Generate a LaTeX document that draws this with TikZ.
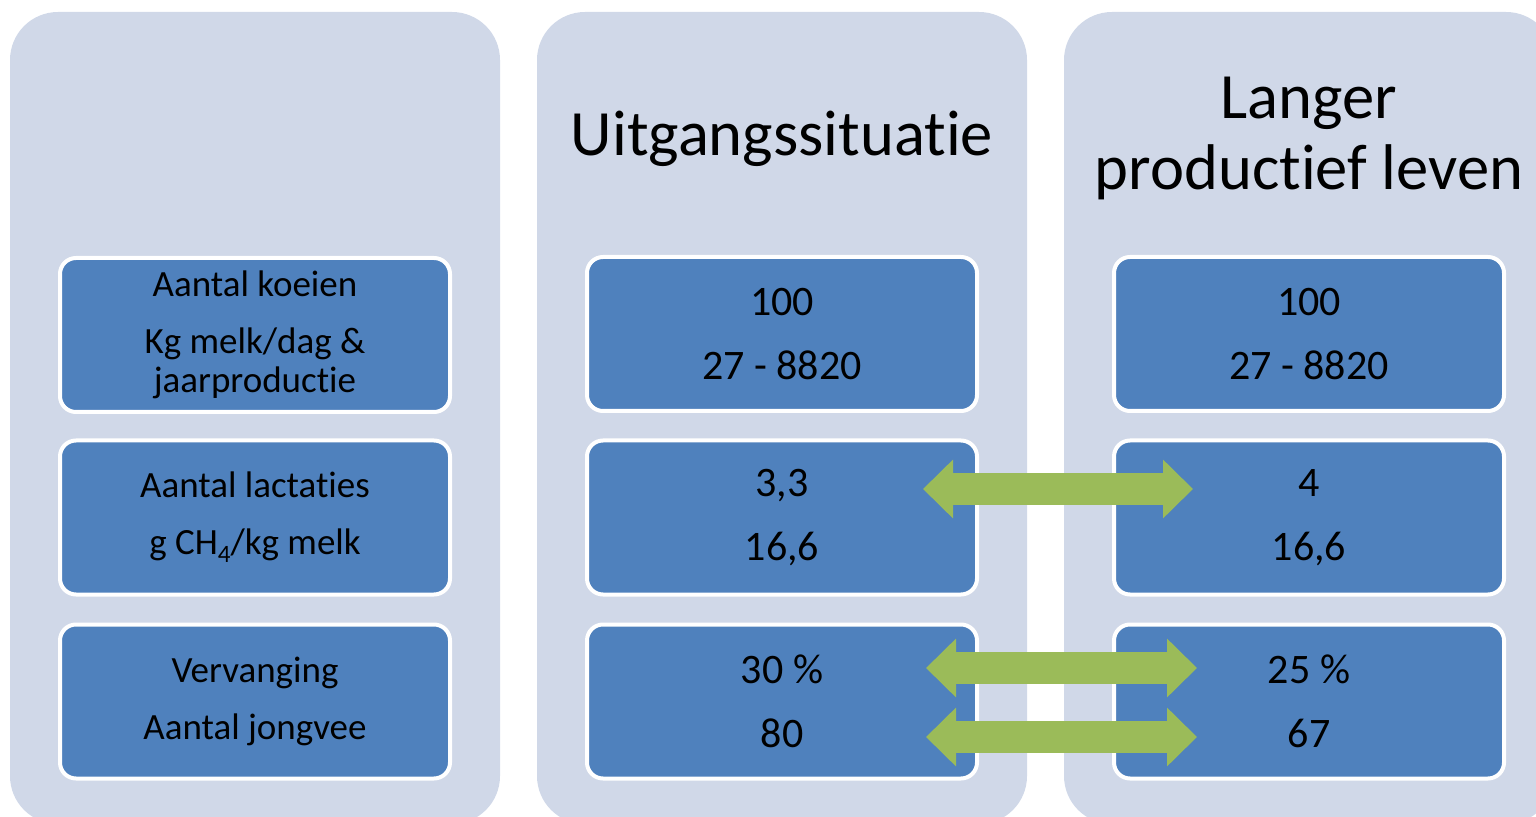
\documentclass[tikz,border=0pt]{standalone}
\usepackage{fontspec}
\setmainfont{Carlito}[RawFeature={-liga;-clig;-dlig;-calt;-rlig;-hlig}]
\usetikzlibrary{arrows.meta}
\definecolor{colbg}{HTML}{D0D8E8}
\definecolor{boxblue}{HTML}{4F81BD}
\definecolor{arrgreen}{HTML}{9BBB59}
\newcommand{\lowsub}[1]{\raisebox{-4pt}{\fontsize{12.5}{12.5}\selectfont #1}}
\newcommand{\nolig}{\kern0pt{}}
\begin{document}
\begin{tikzpicture}[x=0.5pt,y=-0.5pt,
  column/.style={fill=colbg, draw=none, rounded corners=24pt, minimum width=245pt, minimum height=406pt, inner sep=0pt, outer sep=0pt},
  title/.style={font=\fontsize{32.3}{35.5}\selectfont, align=center, inner sep=0pt},
  infobox/.style={fill=boxblue, draw=white, line width=2pt, rounded corners=8pt, minimum width=195pt, minimum height=77pt, inner sep=0pt, outer sep=0pt, align=center},
  lbl/.style={infobox, font=\fontsize{18.5}{19.5}\selectfont},
  val/.style={infobox, font=\fontsize{21}{22}\selectfont},
  bigarrow/.style={draw=arrgreen, line width=16pt, {Triangle[length=15pt,width=28.5pt]}-{Triangle[length=15pt,width=28.5pt]}}
]
\clip (0,0) rectangle (1536,817);
% columns
\node[column] (col1) at (255,418) {};
\node[column] (col2) at (782,418) {};
\node[column] (col3) at (1309,418) {};
% titles
\node[title, anchor=base] (t2) at (782,156) {Uitgangssituat\nolig ie};
\node[title] (t3) at (1309,138) {Langer\\product\nolig ief leven};
% left labels
\node[lbl] (c1r1) at (255,335) {Aantal koeien\\[9pt]Kg melk/dag \&\\jaarproduct\nolig ie};
\node[lbl] (c1r2) at (255,517.5) {Aantal lactat\nolig ies\\[9pt]g CH\lowsub{4}/kg melk};
\node[lbl] (c1r3) at (255,701.5) {Vervanging\\[9pt]Aantal jongvee};
% middle values
\node[val] (c2r1) at (782,334) {100\\[10pt]27 - 8820};
\node[val] (c2r2) at (782,517.5) {3,3\\[10pt]16,6};
\node[val] (c2r3) at (782,701.5) {30 \%\\[10pt]80};
% right values
\node[val] (c3r1) at (1309,334) {100\\[10pt]27 - 8820};
\node[val] (c3r2) at (1309,517.5) {4\\[10pt]16,6};
\node[val] (c3r3) at (1309,701.5) {25 \%\\[10pt]67};
% arrows
\draw[bigarrow] ([xshift=-27pt,yshift=14.25pt]c2r2.east) -- ([xshift=39.5pt,yshift=14.25pt]c3r2.west);
\draw[bigarrow] ([xshift=-25.5pt,yshift=16.75pt]c2r3.east) -- ([xshift=41.5pt,yshift=16.75pt]c3r3.west);
\draw[bigarrow] ([xshift=-25.5pt,yshift=-17.75pt]c2r3.east) -- ([xshift=41.5pt,yshift=-17.75pt]c3r3.west);
\end{tikzpicture}
\end{document}
